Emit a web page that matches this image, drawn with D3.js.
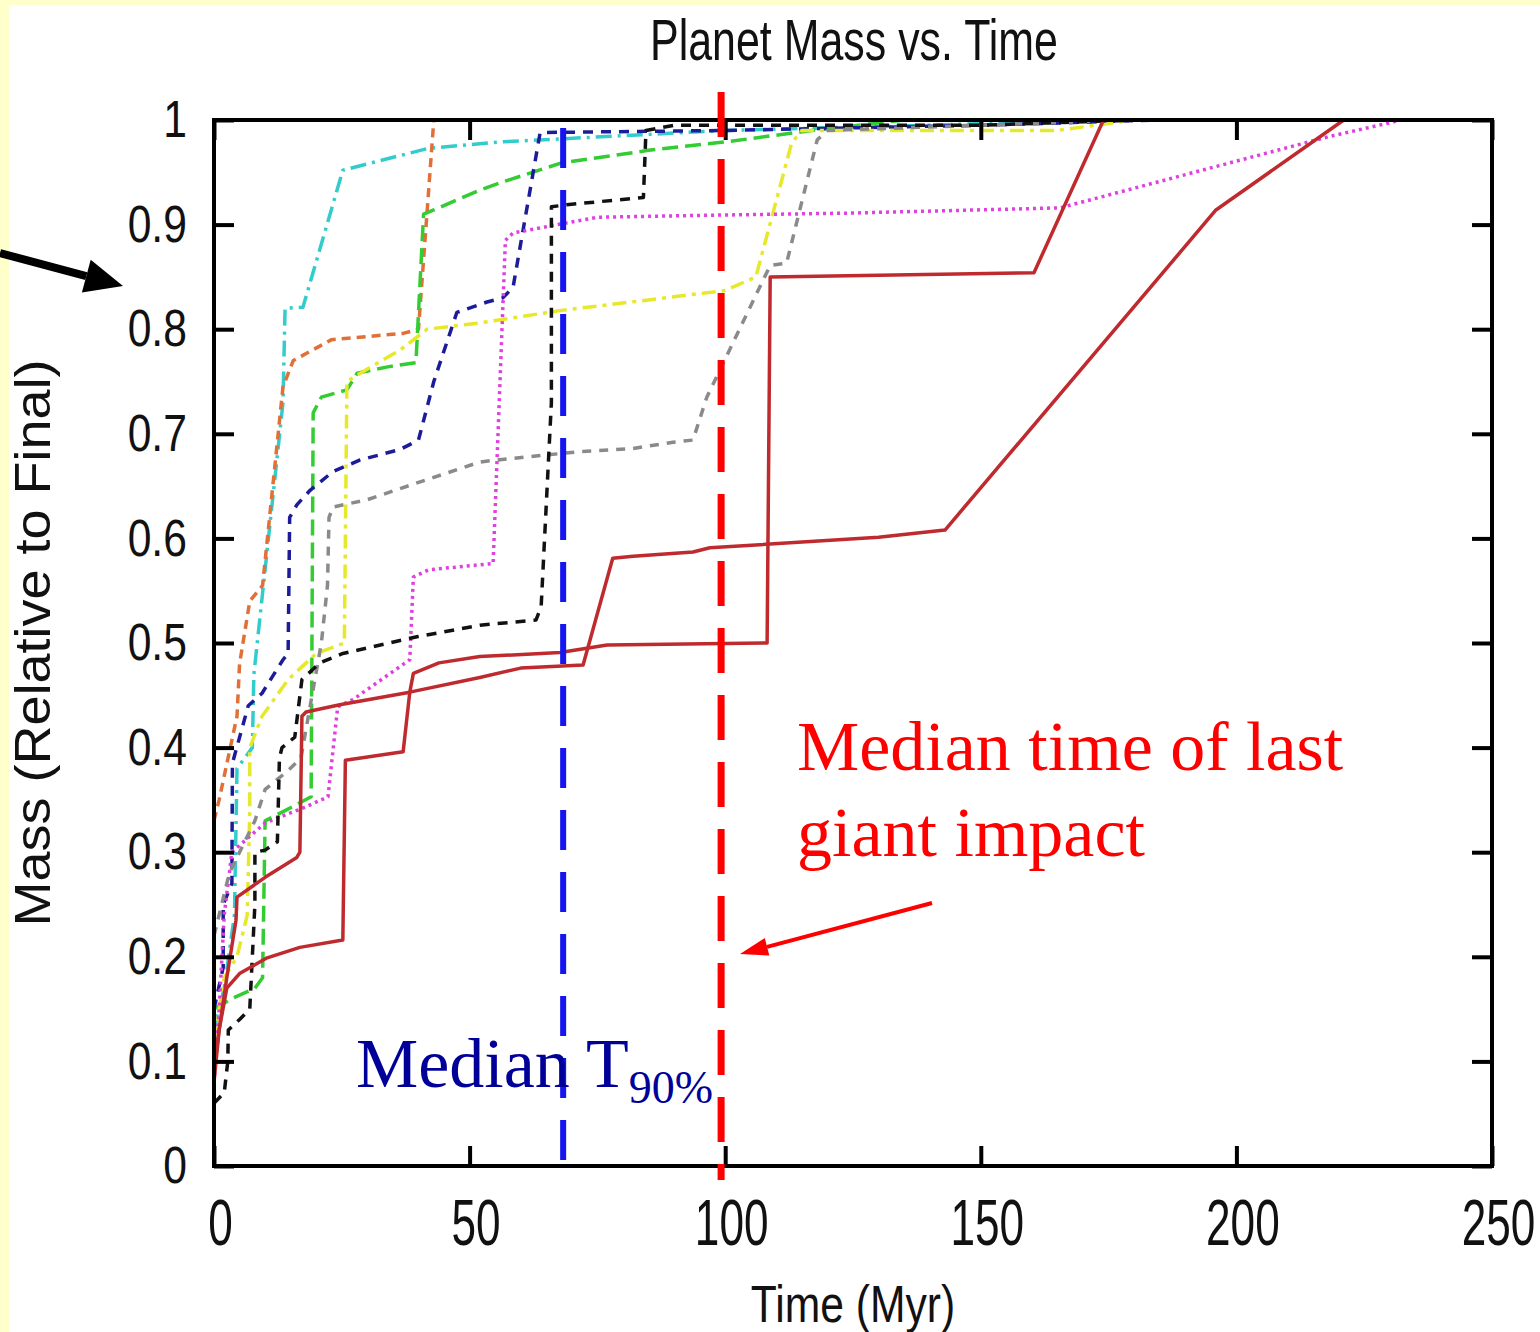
<!DOCTYPE html>
<html lang="en">
<head>
<meta charset="UTF-8">
<title>Planet Mass vs. Time</title>
<script src="https://d3js.org/d3.v7.min.js"></script>
<style>
    body {
        margin: 0;
        background: #ffffcc;
    }
    svg { display: block; }
    .sans { font-family: 'Liberation Sans', Arial, Helvetica, sans-serif; fill: #111; }
    .serif { font-family: 'Liberation Serif', 'Times New Roman', serif; }
    .frame { fill: none; stroke: #000; stroke-width: 4; }
    .axis line { stroke: #000; stroke-width: 4; }
    .axis path { display: none; }
    .series { fill: none; stroke-width: 3.5; stroke-linejoin: round; }
</style>
</head>
<body>
<svg width="1540" height="1332"></svg>
<script>
// ---- data (time in Myr, mass relative to final) ----
const xTicks = [0, 50, 100, 150, 200, 250];
const yTicks = [0, 0.1, 0.2, 0.3, 0.4, 0.5, 0.6, 0.7, 0.8, 0.9, 1];

const cyan = [[0,0.13],[2,0.17],[4,0.24],[4.5,0.38],[7.5,0.40],[7.8,0.47],[13.5,0.73],[13.9,0.82],[17.4,0.821],[25.2,0.952],[42,0.973],[56,0.979],[100,0.99],[140,0.995],[170,1]];
const orange = [[0,0.33],[1,0.35],[4.5,0.43],[5,0.48],[7,0.54],[9.5,0.555],[13.5,0.745],[15.5,0.77],[23,0.79],[37,0.796],[40,0.80],[43,1],[45,1]];
const green = [[0,0.15],[3.5,0.16],[8,0.17],[9.5,0.18],[10,0.33],[14,0.34],[19,0.353],[19.4,0.72],[21,0.735],[26,0.742],[28,0.758],[34,0.764],[39.5,0.768],[41,0.91],[43,0.914],[52,0.933],[56,0.94],[68,0.959],[85,0.971],[100,0.979],[117,0.99],[135,1]];
const navy = [[0,0.15],[1.8,0.19],[1.8,0.25],[3.5,0.27],[3.6,0.385],[6.7,0.44],[9.4,0.452],[13.5,0.484],[14.5,0.49],[14.8,0.62],[16.2,0.632],[18.8,0.646],[23.3,0.664],[28.6,0.675],[36.4,0.685],[40,0.694],[43,0.75],[47.5,0.816],[53.4,0.826],[56.5,0.83],[58.5,0.84],[63.8,0.988],[100,0.99],[150,0.995],[185,1]];
const yellow = [[0,0.12],[2,0.18],[4.5,0.2],[6.5,0.24],[7,0.34],[7,0.40],[9.4,0.43],[14.5,0.465],[20,0.49],[25.5,0.50],[26,0.75],[30,0.762],[36.4,0.78],[41.7,0.80],[52,0.806],[68,0.818],[85,0.828],[100,0.837],[106,0.85],[113,0.978],[115,0.99],[165,0.99],[180,1]];
const magenta = [[0,0.08],[1,0.15],[2,0.24],[3.5,0.30],[10,0.328],[17.8,0.343],[22.3,0.353],[24.2,0.439],[27.2,0.446],[38.3,0.484],[39,0.563],[42,0.57],[54.6,0.576],[57,0.885],[58.5,0.892],[68.3,0.901],[75,0.907],[97.6,0.909],[124.4,0.911],[165.5,0.916],[218,0.984],[230.6,0.998],[232,1]];
const gray = [[0,0.22],[3,0.28],[8,0.33],[10,0.36],[14.5,0.378],[17,0.39],[21,0.5],[22.2,0.555],[22.5,0.62],[23.3,0.63],[30,0.637],[39.7,0.653],[52,0.673],[55.4,0.675],[71.6,0.683],[82,0.686],[89.8,0.692],[93.7,0.694],[96.4,0.735],[108.8,0.861],[112,0.863],[118,0.981],[120,0.99],[180,1]];
const black = [[0,0.06],[2,0.07],[2.7,0.10],[2.8,0.13],[5,0.14],[7,0.15],[8,0.25],[8,0.30],[10,0.302],[12.4,0.31],[12.8,0.39],[13.3,0.40],[15.8,0.41],[17.2,0.465],[20.7,0.481],[25.2,0.49],[39.7,0.506],[52,0.517],[63,0.522],[64,0.535],[66,0.73],[66,0.917],[69,0.919],[82,0.925],[84,0.926],[84.5,0.99],[90,0.995],[150,0.995],[180,1]];
const redB = [[0,0.09],[1,0.13],[2.5,0.17],[5,0.184],[10.4,0.199],[16.8,0.209],[25.2,0.216],[25.7,0.388],[37,0.396],[38.3,0.453],[39,0.471],[44,0.481],[52,0.487],[67.7,0.491],[76.9,0.498],[108.2,0.5],[108.8,0.85],[160.4,0.854],[174,1]];
const redA = [[0,0.08],[1,0.13],[2.5,0.18],[4.3,0.235],[4.5,0.257],[10,0.276],[16.2,0.295],[16.8,0.30],[17.2,0.43],[18,0.434],[24.6,0.441],[38.3,0.453],[52,0.467],[60,0.476],[72.2,0.479],[78,0.581],[82,0.583],[93.7,0.587],[97,0.591],[130,0.601],[143,0.608],[196,0.914],[221,1]];

const medianT90 = 68.3;
const medianLastImpact = 99.2;

// ---- drawing ----
const svg = d3.select("svg");

svg.append("rect")
    .attr("x", 9).attr("y", 5)
    .attr("width", 1531).attr("height", 1327)
    .attr("fill", "#fff");

const plotLeft = 214, plotRight = 1492, plotTop = 120, plotBottom = 1166;
const x = d3.scaleLinear().domain([0, 250]).range([plotLeft, plotRight]);
const y = d3.scaleLinear().domain([0, 1]).range([plotBottom, plotTop]);

const seriesList = [
    { data: cyan,    color: "#33cccc", dash: "16,6,3,6" },
    { data: orange,  color: "#e07038", dash: "9,6" },
    { data: green,   color: "#33cc33", dash: "16,7" },
    { data: navy,    color: "#1c1c9a", dash: "10,8" },
    { data: yellow,  color: "#e8e82a", dash: "14,6,4,6" },
    { data: magenta, color: "#e040e0", dash: "3,4" },
    { data: gray,    color: "#8a8a8a", dash: "9,8" },
    { data: black,   color: "#111111", dash: "10,8" },
    { data: redB,    color: "#bf2a2e", dash: null },
    { data: redA,    color: "#bf2a2e", dash: null }
];

const line = d3.line().x(d => x(d[0])).y(d => y(d[1]));

seriesList.forEach(s => {
    svg.append("path")
        .attr("class", "series")
        .attr("d", line(s.data))
        .attr("stroke", s.color)
        .attr("stroke-dasharray", s.dash);
});

// axes, ticks pointing inward
const yAxisL = svg.append("g").attr("class", "axis")
    .attr("transform", `translate(${plotLeft},0)`)
    .call(d3.axisLeft(y).tickValues(yTicks).tickSizeInner(-20).tickSizeOuter(0).tickPadding(33).tickFormat(d => String(d)));
yAxisL.selectAll("text")
    .attr("class", "sans")
    .style("font-size", "52px")
    .attr("transform", "scale(0.82,1)");

const xAxisB = svg.append("g").attr("class", "axis")
    .attr("transform", `translate(0,${plotBottom})`)
    .call(d3.axisBottom(x).tickValues(xTicks).tickSizeInner(-20).tickSizeOuter(0).tickPadding(34).tickFormat(d => String(d)));
xAxisB.selectAll("text")
    .attr("class", "sans")
    .style("font-size", "64px")
    .attr("transform", "translate(6,0) scale(0.69,1)");

svg.append("g").attr("class", "axis")
    .attr("transform", `translate(${plotRight},0)`)
    .call(d3.axisRight(y).tickValues(yTicks).tickSizeInner(-20).tickSizeOuter(0).tickFormat(""));
svg.append("g").attr("class", "axis")
    .attr("transform", `translate(0,${plotTop})`)
    .call(d3.axisTop(x).tickValues(xTicks).tickSizeInner(-20).tickSizeOuter(0).tickFormat(""));

svg.append("rect").attr("class", "frame")
    .attr("x", plotLeft).attr("y", plotTop)
    .attr("width", plotRight - plotLeft).attr("height", plotBottom - plotTop);

// median lines
svg.append("line")
    .attr("x1", x(medianT90)).attr("x2", x(medianT90))
    .attr("y1", y(1) + 8).attr("y2", y(0))
    .attr("stroke", "#1515f0").attr("stroke-width", 6)
    .attr("stroke-dasharray", "40,22");

svg.append("line")
    .attr("x1", x(medianLastImpact)).attr("x2", x(medianLastImpact))
    .attr("y1", y(1) - 28).attr("y2", y(0) + 14)
    .attr("stroke", "#ff0000").attr("stroke-width", 7)
    .attr("stroke-dasharray", "45,22");

// titles
svg.append("text").attr("class", "sans")
    .attr("transform", "translate(854,60) scale(0.74,1)")
    .attr("text-anchor", "middle")
    .style("font-size", "58px")
    .text("Planet Mass vs. Time");

svg.append("text").attr("class", "sans")
    .attr("transform", "translate(853,1322) scale(0.82,1)")
    .attr("text-anchor", "middle")
    .style("font-size", "52px")
    .text("Time (Myr)");

svg.append("text").attr("class", "sans")
    .attr("transform", "translate(50,643) rotate(-90) scale(1.08,1)")
    .attr("text-anchor", "middle")
    .style("font-size", "50px")
    .text("Mass (Relative to Final)");

// annotations
const t90 = svg.append("text").attr("class", "serif")
    .attr("x", 356).attr("y", 1087)
    .attr("fill", "#000099")
    .style("font-size", "70px");
t90.append("tspan").text("Median T");
t90.append("tspan").attr("dy", 16).style("font-size", "46px").text("90%");

svg.append("text").attr("class", "serif")
    .attr("x", 797).attr("y", 770)
    .attr("fill", "#ff0000").style("font-size", "70px")
    .text("Median time of last");
svg.append("text").attr("class", "serif")
    .attr("x", 797).attr("y", 856)
    .attr("fill", "#ff0000").style("font-size", "70px")
    .text("giant impact");

function arrow(x1, y1, x2, y2, headLen, headHalf, width, color) {
    const len = Math.hypot(x2 - x1, y2 - y1);
    const ux = (x2 - x1) / len, uy = (y2 - y1) / len;
    const bx = x2 - ux * headLen, by = y2 - uy * headLen;
    svg.append("line")
        .attr("x1", x1).attr("y1", y1).attr("x2", bx).attr("y2", by)
        .attr("stroke", color).attr("stroke-width", width);
    svg.append("path")
        .attr("d", `M${x2},${y2} L${bx - uy * headHalf},${by + ux * headHalf} L${bx + uy * headHalf},${by - ux * headHalf} Z`)
        .attr("fill", color);
}

arrow(0, 253, 123, 286, 38, 17, 8, "#000");
arrow(932, 903, 740, 954, 28, 9, 4, "#ff0000");
</script>
</body>
</html>
